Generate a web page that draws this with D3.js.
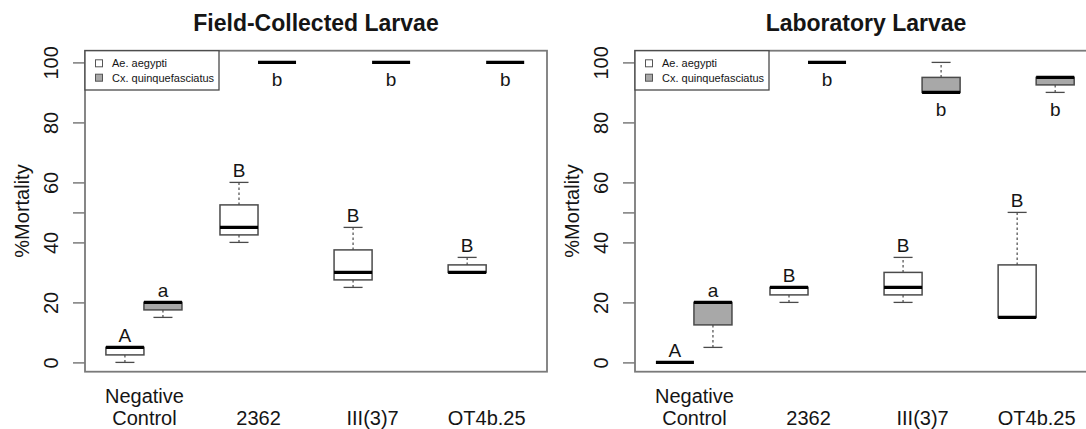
<!DOCTYPE html>
<html><head><meta charset="utf-8">
<script src="https://cdn.jsdelivr.net/npm/d3@7"></script>
<style>
body{margin:0;background:#fff}
svg{display:block}
text{font-family:"Liberation Sans",Arial,Helvetica,sans-serif}
</style>
</head><body>
<svg id="chart" width="1086" height="429"></svg>
<script>
// ---- data ----
const categories = ["Negative\nControl", "2362", "III(3)7", "OT4b.25"];
const species = ["Ae. aegypti", "Cx. quinquefasciatus"];
const panelTitles = ["Field-Collected Larvae", "Laboratory Larvae"];
const yTicks = [0, 20, 40, 50, 60, 80, 100];
const yTickLabels = ["0", "20", "40", "", "60", "80", "100"];
const yLabel = "%Mortality";
// five-number summaries per category: [min, q1, median, q3, max]
const fieldAe = [[0, 2.5, 5, 5, 5], [40, 42.5, 45, 52.5, 60], [25, 27.5, 30, 37.5, 45], [30, 30, 30, 32.5, 35]];
const fieldCx = [[15, 17.5, 20, 20, 20], [100, 100, 100, 100, 100], [100, 100, 100, 100, 100], [100, 100, 100, 100, 100]];
const labAe = [[0, 0, 0, 0, 0], [20, 22.5, 25, 25, 25], [20, 22.5, 25, 30, 35], [15, 15, 15, 32.5, 50]];
const labCx = [[5, 12.5, 20, 20, 20], [100, 100, 100, 100, 100], [90, 90, 90, 95, 100], [90, 92.5, 95, 95, 95]];
const fieldAeLetters = ["A", "B", "B", "B"];
const fieldCxLetters = ["a", "b", "b", "b"];
const labAeLetters = ["A", "B", "B", "B"];
const labCxLetters = ["a", "b", "b", "b"];

// ---- drawing ----
const svg = d3.select("#chart");
const speciesFill = ["#ffffff", "#a8a8a8"];
const frameColor = "#7a7a7a";
const boxStroke = "#4a4a4a";
const textColor = "#151515";

const panels = [
  {title: panelTitles[0], series: [fieldAe, fieldCx], letters: [fieldAeLetters, fieldCxLetters], off: 0},
  {title: panelTitles[1], series: [labAe, labCx], letters: [labAeLetters, labCxLetters], off: 550}
];

panels.forEach(p => {
  const left = 85 + p.off, right = 547 + p.off, top = 50.7, bottom = 371.7;
  const x = d3.scaleLinear().domain([-0.05, 12.1]).range([left, right]);
  const y = d3.scaleLinear().domain([-3.1, 103.9]).range([bottom, top]);
  const g = svg.append("g");
  const half = x(0.5) - x(0);

  // boxes
  p.series.forEach((ser, s) => {
    ser.forEach((v, i) => {
      const pos = 1 + 3 * i + s;
      const cx = x(pos);
      const [mn, q1, md, q3, mx] = v;
      const bg = g.append("g");
      // whiskers
      [[q3, mx], [q1, mn]].forEach(([a, b]) => {
        if (a !== b) {
          bg.append("line").attr("x1", cx).attr("x2", cx).attr("y1", y(a)).attr("y2", y(b))
            .attr("stroke", boxStroke).attr("stroke-width", 1.2).attr("stroke-dasharray", "2.5,2.5");
        }
        bg.append("line").attr("x1", cx - half / 2).attr("x2", cx + half / 2).attr("y1", y(b)).attr("y2", y(b))
          .attr("stroke", boxStroke).attr("stroke-width", 1.3);
      });
      bg.append("rect").attr("x", cx - half).attr("width", 2 * half)
        .attr("y", y(q3)).attr("height", Math.max(0, y(q1) - y(q3)))
        .attr("fill", speciesFill[s]).attr("stroke", boxStroke).attr("stroke-width", 1.5);
      bg.append("line").attr("x1", cx - half).attr("x2", cx + half).attr("y1", y(md)).attr("y2", y(md))
        .attr("stroke", "#000").attr("stroke-width", 3.2);
      // significance letter
      const below = md > 80;
      g.append("text").attr("x", cx)
        .attr("y", below ? y(mn) + 24 : y(mx) - 5)
        .attr("text-anchor", "middle").attr("font-size", 19).attr("fill", textColor)
        .text(p.letters[s][i]);
    });
  });

  // frame
  g.append("rect").attr("x", left).attr("y", top).attr("width", right - left).attr("height", bottom - top)
    .attr("fill", "none").attr("stroke", frameColor).attr("stroke-width", 1.8);

  // y axis
  const yAxis = d3.axisLeft(y).tickValues(yTicks)
    .tickFormat(d => yTickLabels[yTicks.indexOf(d)]).tickSize(12).tickPadding(0);
  const ga = g.append("g").attr("transform", `translate(${left},0)`).call(yAxis);
  ga.select(".domain").remove();
  ga.selectAll(".tick line").attr("stroke", frameColor).attr("stroke-width", 1.5);
  ga.selectAll(".tick text").attr("x", null).attr("dy", null)
    .attr("transform", "translate(-27,0) rotate(-90)")
    .attr("text-anchor", "middle").attr("font-size", 20).attr("fill", textColor);

  // x axis (labels only)
  const xAxis = d3.axisBottom(x).tickValues(categories.map((c, i) => 1.5 + 3 * i))
    .tickFormat((d) => categories[(d - 1.5) / 3]).tickSize(0);
  const gx = g.append("g").attr("transform", `translate(0,${bottom})`).call(xAxis);
  gx.select(".domain").remove();
  gx.selectAll(".tick text").each(function (d) {
    const t = d3.select(this);
    const lines = t.text().split("\n");
    t.text(null).attr("dy", null).attr("y", 0).attr("font-size", 20).attr("fill", textColor);
    lines.forEach((ln, k) => {
      t.append("tspan").attr("x", 0).attr("y", 425 - bottom - (lines.length - 1 - k) * 21.5).text(ln);
    });
  });

  // y label
  g.append("text").attr("transform", `translate(${29 + p.off},211) rotate(-90)`)
    .attr("text-anchor", "middle").attr("font-size", 20).attr("fill", textColor).text(yLabel);

  // title
  g.append("text").attr("x", (left + right) / 2).attr("y", 31)
    .attr("text-anchor", "middle").attr("font-size", 23).attr("font-weight", "bold")
    .attr("fill", textColor).text(p.title);

  // legend
  const lg = g.append("g");
  lg.append("rect").attr("x", left).attr("y", top).attr("width", 134).attr("height", 39.3)
    .attr("fill", "#fff").attr("stroke", "#4a4a4a").attr("stroke-width", 1.3);
  species.forEach((sp, k) => {
    const ry = 63.3 + k * 14.4;
    lg.append("rect").attr("x", left + 10.5).attr("y", ry - 3.5).attr("width", 7).attr("height", 7)
      .attr("fill", speciesFill[k]).attr("stroke", "#555").attr("stroke-width", 1);
    lg.append("text").attr("x", left + 27).attr("y", ry + 4)
      .attr("font-size", 11).attr("fill", textColor).text(sp);
  });
});
</script>
</body></html>
